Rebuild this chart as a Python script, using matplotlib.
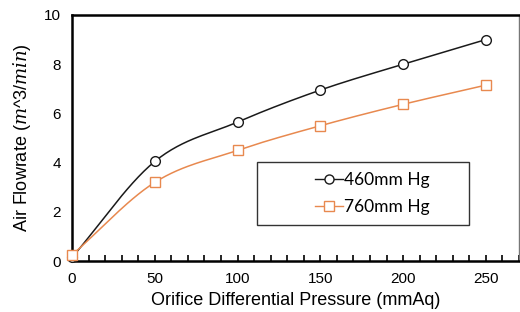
import numpy as np
import matplotlib
matplotlib.use("Agg")
import matplotlib.pyplot as plt
from matplotlib.patches import Rectangle
from matplotlib.ticker import MultipleLocator

pressure = [0, 50, 100, 150, 200, 250]
flow_460 = [0.15, 4.05, 5.65, 6.95, 8.0, 9.0]
flow_760 = [0.25, 3.2, 4.5, 5.5, 6.37, 7.15]
labels = ["460mm Hg", "760mm Hg"]
xlabel = "Orifice Differential Pressure (mmAq)"
ylabel = r"Air Flowrate ($m$^3/$min$)"


def smooth(x, y, n=30):
    x = np.asarray(x, float); y = np.asarray(y, float)
    px = np.concatenate([[2 * x[0] - x[1]], x, [2 * x[-1] - x[-2]]])
    py = np.concatenate([[2 * y[0] - y[1]], y, [2 * y[-1] - y[-2]]])
    xs, ys = [], []
    for i in range(1, len(px) - 2):
        t = np.linspace(0, 1, n, endpoint=False)
        for p, out in ((px, xs), (py, ys)):
            p0, p1, p2, p3 = p[i - 1], p[i], p[i + 1], p[i + 2]
            out.append(0.5 * ((2 * p1) + (-p0 + p2) * t + (2 * p0 - 5 * p1 + 4 * p2 - p3) * t ** 2
                              + (-p0 + 3 * p1 - 3 * p2 + p3) * t ** 3))
    xs.append([x[-1]]); ys.append([y[-1]])
    return np.concatenate(xs), np.concatenate(ys)


plt.rcParams['font.family'] = ['Liberation Sans', 'DejaVu Sans']
plt.rcParams['mathtext.fontset'] = 'dejavuserif'

fig = plt.figure(figsize=(5.2, 3.12), dpi=100)
ax = fig.add_axes([0.1385, 0.163, 0.8595, 0.789])

c1 = '#1a1a1a'
c2 = '#E8894F'
sx, sy = smooth(pressure, flow_460)
ax.plot(sx, sy, color=c1, lw=1.1)
sx, sy = smooth(pressure, flow_760)
ax.plot(sx, sy, color=c2, lw=1.1)
ax.plot(pressure, flow_460, 'o', ms=7, mfc='white', mec=c1, mew=1.0, zorder=3, clip_on=False)
ax.plot(pressure, flow_760, 's', ms=6.5, mfc='white', mec=c2, mew=1.0, zorder=3, clip_on=False)

h1, = ax.plot([], [], '-o', color=c1, ms=6.5, mfc='white', lw=1.0)
h2, = ax.plot([], [], '-s', color=c2, ms=6.5, mfc='white', lw=1.0)

ax.set_xlim(0, 270)
ax.set_ylim(0, 10)
ax.xaxis.set_major_locator(MultipleLocator(50))
ax.xaxis.set_minor_locator(MultipleLocator(10))
ax.yaxis.set_major_locator(MultipleLocator(2))
ax.tick_params(axis='x', which='both', direction='in', length=4, width=1.2, pad=8, labelsize=11)
ax.tick_params(axis='y', which='both', length=0, pad=8, labelsize=11)
for s in ['left', 'bottom', 'top']:
    ax.spines[s].set_linewidth(1.8)
    ax.spines[s].set_color('black')
ax.spines['right'].set_linewidth(1.0)
ax.spines['right'].set_color('#777777')

ax.set_xlabel(xlabel, fontsize=13, labelpad=4)
ax.set_ylabel(ylabel, fontsize=13, labelpad=8)

ax.add_patch(Rectangle((0.414, 0.146), 0.474, 0.256, transform=ax.transAxes,
                       fill=True, facecolor='white', edgecolor='#333333', lw=1.0, zorder=4))
leg = ax.legend([h1, h2], labels, loc='center', bbox_to_anchor=(0.672, 0.274),
                frameon=False, handlelength=1.6, handletextpad=0.1,
                labelspacing=0.6, prop={'family': 'Lato', 'size': 12.5})
leg.set_zorder(5)

fig.savefig('out.png', dpi=100)
